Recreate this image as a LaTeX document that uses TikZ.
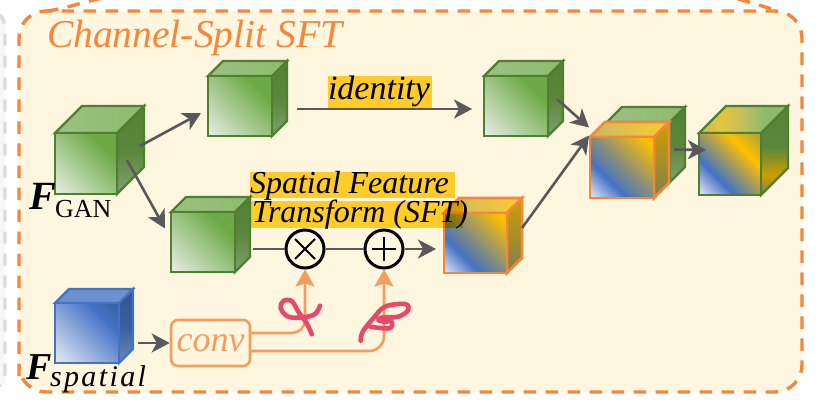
\documentclass[tikz,border=0pt]{standalone}
\usepackage{fontspec}
\setmainfont{Liberation Serif}
\usetikzlibrary{arrows.meta,calc,shadings}
\definecolor{panel}{HTML}{FFF6E0}
\definecolor{dashor}{HTML}{F4873A}
\definecolor{soft}{HTML}{F59D5F}
\definecolor{arrowgray}{HTML}{595959}
\definecolor{gstroke}{HTML}{4F7F31}
\definecolor{bstroke}{HTML}{4472C4}
\definecolor{hl}{HTML}{FFD42F}
\definecolor{scrib}{HTML}{E8486C}
\definecolor{gA}{HTML}{E8EDE6}
\definecolor{gB}{HTML}{6DAA45}
\definecolor{gC}{HTML}{6FA64C}
\definecolor{gTopL}{HTML}{9CC183}
\definecolor{gTopR}{HTML}{8DBB6B}
\definecolor{gSideT}{HTML}{548235}
\definecolor{gSideM}{HTML}{5A873B}
\definecolor{gSideB}{HTML}{80A070}
\definecolor{bA}{HTML}{E6EAF4}
\definecolor{bB}{HTML}{4472C4}
\definecolor{bTop}{HTML}{6D90CE}
\definecolor{bSideT}{HTML}{2F5597}
\definecolor{bSideM}{HTML}{37609F}
\definecolor{bSideB}{HTML}{6E88B6}
\definecolor{gold}{HTML}{FFC000}
\definecolor{olive}{HTML}{A6A23A}
\definecolor{oTopL}{HTML}{C6B868}
\definecolor{oTopR}{HTML}{FFCB2B}
\definecolor{oSideT}{HTML}{CF9E00}
\definecolor{oSideB}{HTML}{7F7F50}
\definecolor{fTopA}{HTML}{C9B958}
\definecolor{fTopB}{HTML}{E6C53A}
\definecolor{fTopC}{HTML}{BFC05E}
\pgfdeclareverticalshading{gfront}{100bp}{color(0bp)=(gA);color(15bp)=(gA);color(70bp)=(gB);color(85bp)=(gC);color(100bp)=(gC)}
\pgfdeclareverticalshading{bfront}{100bp}{color(0bp)=(bA);color(15bp)=(bA);color(68bp)=(bB);color(85bp)=(bSideM);color(100bp)=(bSideM)}
\pgfdeclareverticalshading{mfront}{100bp}{color(0bp)=(bA);color(15bp)=(bA);color(35bp)=(bB);color(80bp)=(gold);color(100bp)=(gold)}
\pgfdeclareverticalshading{ffront}{100bp}{color(0bp)=(bA);color(15bp)=(bA);color(35bp)=(bB);color(66bp)=(gold);color(85bp)=(olive);color(100bp)=(olive)}
\pgfdeclareverticalshading{gside}{100bp}{color(0bp)=(gSideB);color(25bp)=(gSideB);color(50bp)=(gSideM);color(75bp)=(gSideT);color(100bp)=(gSideT)}
\pgfdeclareverticalshading{bside}{100bp}{color(0bp)=(bSideB);color(25bp)=(bSideB);color(50bp)=(bSideM);color(75bp)=(bSideT);color(100bp)=(bSideT)}
\pgfdeclareverticalshading{fside}{100bp}{color(0bp)=(oSideB);color(25bp)=(oSideB);color(36bp)=(oSideT);color(52bp)=(gSideM);color(100bp)=(gSideT)}
\pgfdeclareverticalshading{ftop}{100bp}{color(0bp)=(fTopA);color(27bp)=(fTopA);color(37bp)=(fTopB);color(50bp)=(fTopC);color(62bp)=(gTopR);color(100bp)=(gTopR)}
\tikzset{
  cubeface/.style={shade,draw,line join=miter},
  green-front/.style={cubeface,draw=gstroke,line width=2.4,shading=gfront,shading angle=-45},
  green-top/.style={cubeface,draw=gstroke,line width=2.4,left color=gTopL,right color=gTopR},
  green-side/.style={cubeface,draw=gstroke,line width=2.4,shading=gside},
  blue-front/.style={cubeface,draw=bstroke,line width=2.4,shading=bfront,shading angle=-45},
  blue-top/.style={cubeface,draw=bstroke,line width=2.4,left color=bTop,right color=bTop},
  blue-side/.style={cubeface,draw=bstroke,line width=2.4,shading=bside},
  mix-front/.style={cubeface,draw=dashor,line width=2.8,shading=mfront,shading angle=-45},
  mix-top/.style={cubeface,draw=dashor,line width=2.8,left color=oTopL,right color=oTopR},
  mix-side/.style={cubeface,draw=dashor,line width=2.8,top color=oSideT,bottom color=oSideB},
  final-front/.style={cubeface,draw=gstroke,line width=2.4,shading=ffront,shading angle=-45},
  final-top/.style={cubeface,draw=gstroke,line width=2.4,shading=ftop,shading angle=-90},
  final-side/.style={cubeface,draw=gstroke,line width=2.4,shading=fside},
  flow/.style={draw=arrowgray,line width=2.6,-{Stealth[length=18,width=19,inset=5]}},
  flowplain/.style={draw=arrowgray,line width=2},
  softflow/.style={draw=soft,line width=2.6,-{Stealth[length=17,width=19,inset=3]}},
  opnode/.style={circle,draw=black,line width=3,fill=panel,minimum size=38,inner sep=0},
  opmark/.style={draw=black,line width=2},
  txt/.style={anchor=base west,inner sep=0,outer sep=0},
  marker/.style={fill=hl,blend mode=multiply},
  scribble/.style={draw=scrib,line width=4.6,line cap=round,line join=round},
  paneldash/.style={draw=dashor,line width=3.4,dash pattern=on 12.5 off 9.5},
  leftdash/.style={draw=black!14,line width=3.4,dash pattern=on 12 off 10}
}
% name, x, y of front top left, w, h, depth, kind
\newcommand\mkcube[7]{%
  \path[#7-side] (#2+#4,#3) -- (#2+#4+#6,#3-#6) -- (#2+#4+#6,#3+#5-#6) -- (#2+#4,#3+#5) -- cycle;
  \path[#7-top] (#2,#3) -- (#2+#6,#3-#6) -- (#2+#4+#6,#3-#6) -- (#2+#4,#3) -- cycle;
  \path[#7-front] (#2,#3) rectangle (#2+#4,#3+#5);
  \node[inner sep=0,outer sep=0,minimum width=#4+#6,minimum height=#5+#6] (#1) at (#2+#4/2+#6/2,#3+#5/2-#6/2) {};
}
\begin{document}
\begin{tikzpicture}[x=1pt,y=-1pt]
\useasboundingbox (0,0) rectangle (819,409);
\clip (0,0) rectangle (819,409);
% neighbouring panel at the left
\fill[black!3] (-10,15) rectangle (5,385);
\draw[leftdash] (-2,14) .. controls (3,17) and (5,22) .. (5,30) -- (5,372) .. controls (5,378) and (3,382) .. (0,386);
% panel
\path[fill=panel] (19,11) [rounded corners=27] rectangle (802,392);
\draw[paneldash,rounded corners=27] (19,376) -- (19,11) -- (802,11) -- (802,392) -- (19,392) -- (19,376);
\draw[paneldash] (46,11) .. controls (62,9.5) and (80,3) .. (102,-2);
\draw[paneldash] (738,-1) .. controls (750,2) and (762,6) .. (775,10);
\node[txt,text=dashor,font=\fontsize{39.5}{39.5}\selectfont\itshape] (title) at (47,48) {Channel-Split SFT};
% cubes
\mkcube{inp}{55}{133}{62}{61}{27}{green}
\mkcube{top}{208}{76}{64}{60}{15}{green}
\mkcube{idn}{484}{76}{64}{60}{15}{green}
\mkcube{mid}{171}{212}{64}{60}{15}{green}
\mkcube{sft}{444}{213}{63}{60}{15}{mix}
\mkcube{spa}{55}{303}{64}{60}{14}{blue}
\mkcube{bk}{607}{122}{63}{60}{15}{green}
\mkcube{mix}{590}{137}{64}{61}{15}{mix}
\mkcube{out}{699}{133}{62}{62}{27}{final}
% text markers
\fill[marker] (328,76) rectangle (432,108);
\fill[marker] (250,172) rectangle (455,198);
\fill[marker] (251,201) rectangle (463,228);
% operators
\node[opnode] (mul) at (305,249) {};
\node[opnode] (add) at (384,249) {};
\draw[opmark] ([shift={(-10,-10)}]mul.center) -- ([shift={(10,10)}]mul.center);
\draw[opmark] ([shift={(-10,10)}]mul.center) -- ([shift={(10,-10)}]mul.center);
\draw[opmark] ([shift={(-12,0)}]add.center) -- ([shift={(12,0)}]add.center);
\draw[opmark] ([shift={(0,-12)}]add.center) -- ([shift={(0,12)}]add.center);
% conv
\node[draw=soft,line width=2.6,rounded corners=7,fill=panel,minimum width=79,minimum height=46,inner sep=0,text=soft,font=\fontsize{36}{36}\selectfont\itshape] (conv) at (210.5,343) {conv};
% connectors
\draw[flow] ([shift={(-4,-4)}]inp.east) -- ([shift={(-7,14.5)}]top.west);
\draw[flow] ([shift={(-17,10)}]inp.east) -- ([shift={(-6,-6)}]mid.west);
\draw[flow] ([shift={(10,10.5)}]top.east) -- ([shift={(-12,10.5)}]idn.west);
\draw[flow] ([shift={(-6,0.5)}]idn.east) -- ([shift={(-1,-32.5)}]mix.west);
\draw[flow] ([shift={(0,-7.5)}]sft.east) -- ([shift={(-1,-24.5)}]mix.west);
\draw[flow] ([shift={(5,-10.5)}]mix.east) -- ([shift={(7,-0.5)}]out.west);
\draw[flowplain] ([shift={(3,14.5)}]mid.east) -- (mul.west);
\draw[flowplain] (mul.east) -- (add.west);
\draw[flow,line width=2] (add.east) -- ([shift={(-8,13.5)}]sft.west);
\draw[flow] ([shift={(5,17)}]spa.east) -- (conv.west);
\draw[softflow,rounded corners=13] ([yshift=10]conv.east) -| (mul.south);
\draw[softflow,rounded corners=15] ([yshift=-8]conv.east) -| (add.south);
% scribbles
\draw[scribble] plot[smooth,tension=.6] coordinates {(311.7,334.3) (306.7,323.3) (298.3,311.7) (291.7,301) (283.3,301) (280.7,308.3) (288.3,316.7) (303.3,317.3) (315,314) (320,305.7)};
\draw[scribble] plot[smooth,tension=.6] coordinates {(360.7,340.7) (362.7,331.7) (373.3,318.3) (385,306.7) (405,304) (408.3,310) (398.3,316.7) (383.3,317.3) (378.3,320) (385,321.7) (391.7,321.7) (389.3,328.3) (370,326.7)};
% labels
\node[txt,font=\fontsize{34}{34}\selectfont\itshape] (identity) at (328,100) {identity};
\node[txt,font=\fontsize{32}{32}\selectfont\itshape] (sftA) at (250,193) {Spatial Feature};
\node[txt,font=\fontsize{32}{32}\selectfont\itshape] (sftB) at (252,222) {Transform (SFT)};
\node[txt,font=\fontsize{40}{40}\selectfont\bfseries\itshape] (fgan) at (29,209) {F};
\node[txt,font=\fontsize{26}{26}\selectfont] (gan) at (55,217) {GAN};
\node[txt,font=\fontsize{38}{38}\selectfont\bfseries\itshape] (fsp) at (26,379) {F};
\node[txt,font=\fontsize{30}{30}\selectfont\itshape\addfontfeature{LetterSpace=8}] (sp) at (50,386) {spatial};
\end{tikzpicture}
\end{document}
